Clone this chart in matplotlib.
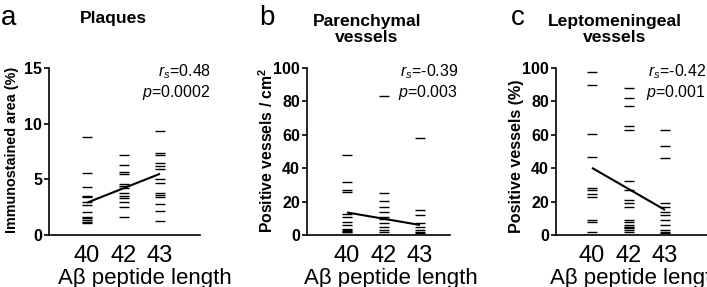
import matplotlib
matplotlib.use("Agg")
import matplotlib.pyplot as plt

plt.rcParams['font.family'] = ['Liberation Sans', 'DejaVu Sans']
plt.rcParams['mathtext.fontset'] = 'custom'
plt.rcParams['mathtext.rm'] = 'Liberation Sans'
plt.rcParams['mathtext.it'] = 'Liberation Sans:italic'
plt.rcParams['mathtext.bf'] = 'Liberation Sans:bold'

# ---- data ----
categories = ["40", "42", "43"]

plaques_40 = [8.8, 5.6, 4.3, 3.5, 3.4, 3.0, 2.7, 2.1, 1.6, 1.5, 1.35, 1.2, 1.05]
plaques_42 = [7.2, 6.3, 5.7, 5.5, 4.6, 4.4, 4.2, 3.75, 3.5, 3.3, 3.0, 2.55, 1.65]
plaques_43 = [9.3, 7.4, 7.2, 6.5, 6.2, 5.9, 5.0, 4.7, 3.8, 3.6, 3.4, 2.8, 2.2, 1.3]
plaques_fit = [2.9, 5.5]

paren_40 = [48, 32, 27, 26, 12.5, 11, 8, 6, 3.5, 3, 2.5, 2, 1.5]
paren_42 = [83, 25, 20.5, 16.5, 14, 11, 9.5, 7, 5, 3, 1.5]
paren_43 = [58, 15, 12, 7, 5, 3, 1.5, 1]
paren_fit = [13.5, 6]

lepto_40 = [97.5, 90, 60.5, 46.5, 28, 27, 24.5, 22.5, 9, 8, 1.6]
lepto_42 = [88, 82, 77, 65, 63, 32.5, 27, 21, 19, 17, 9, 7.5, 6, 5, 4.5, 4, 3, 2]
lepto_43 = [63, 53, 46, 19, 17, 14, 12, 9, 6, 3, 2, 1]
lepto_fit = [40.2, 15]

titles = ["Plaques", "Parenchymal\nvessels", "Leptomeningeal\nvessels"]
letters = ["a", "b", "c"]
ylabels = ["Immunostained area (%)", "Positive vessels / cm$^\\mathbf{2}$", "Positive vessels (%)"]
xlabel = "A\u03b2 peptide length"
rs_texts = ["$r_s$=0.48", "$r_s$=-0.39", "$r_s$=-0.42"]
p_texts = ["$p$=0.0002", "$p$=0.003", "$p$=0.001"]
yticks_list = [[0, 5, 10, 15], [0, 20, 40, 60, 80, 100], [0, 20, 40, 60, 80, 100]]

panels = [
    [plaques_40, plaques_42, plaques_43, plaques_fit],
    [paren_40, paren_42, paren_43, paren_fit],
    [lepto_40, lepto_42, lepto_43, lepto_fit],
]

W, H = 707, 287
fig = plt.figure(figsize=(W / 100, H / 100), dpi=100)

# pixel layout: (axis left, axis right, first-category x, text right edge)
layout = [(49, 200, 87, 211), (307, 450, 347, 458), (556, 707, 592, 706)]
title_x = [113, 367, 615]
title_base = [23, 42, 42]
letter_x = [1, 259, 511]
xlabel_x = [145, 391, 637]
ylabel_off = [37, 40, 39]
ylabel_size = [10.4, 11.3, 11.6]
ax_top, ax_bot = 68, 235
spacing = 36.5

for i, (data, (l, r, c0, tr)) in enumerate(zip(panels, layout)):
    ax = fig.add_axes([l / W, (H - ax_bot) / H, (r - l) / W, (ax_bot - ax_top) / H])
    for k in range(3):
        ax.plot([k] * len(data[k]), data[k], linestyle='none', marker='_',
                markersize=7.2, markeredgewidth=1.0, color='black', clip_on=False)
    ax.plot([0, 2], data[3], color='black', linewidth=1.5, solid_capstyle='butt')
    ax.set_xlim((l - c0) / spacing, (r - c0) / spacing)
    yt = yticks_list[i]
    ax.set_ylim(yt[0], yt[-1])
    ax.set_yticks(yt)
    ax.set_yticklabels([str(v) for v in yt], fontweight='bold', fontsize=11.5)
    ax.set_xticks([0, 1, 2])
    ax.set_xticklabels(categories, fontsize=17)
    ax.tick_params(axis='x', length=0, pad=7)
    ax.tick_params(axis='y', length=3.5, width=1.2, pad=1.5)
    for s in ['top', 'right']:
        ax.spines[s].set_visible(False)
    for s in ['left', 'bottom']:
        ax.spines[s].set_linewidth(1.2)
    fig.text((l - ylabel_off[i]) / W, 1 - 233 / H, ylabels[i], fontweight='bold',
             fontsize=ylabel_size[i], rotation=90, ha='center', va='bottom')
    fig.text(xlabel_x[i] / W, 1 - 284 / H, xlabel, fontsize=16, ha='center', va='baseline')
    fig.text(title_x[i] / W, 1 - title_base[i] / H, titles[i], fontsize=12.6, fontweight='bold',
             ha='center', va='baseline', linespacing=1.05, multialignment='center')
    fig.text(letter_x[i] / W, 1 - 25 / H, letters[i], fontsize=20, ha='left', va='baseline')
    fig.text(tr / W, 1 - 76 / H, rs_texts[i], fontsize=11.5, ha='right', va='baseline')
    fig.text(tr / W, 1 - 97 / H, p_texts[i], fontsize=11.5, ha='right', va='baseline')

fig.savefig("out.png", dpi=100)
